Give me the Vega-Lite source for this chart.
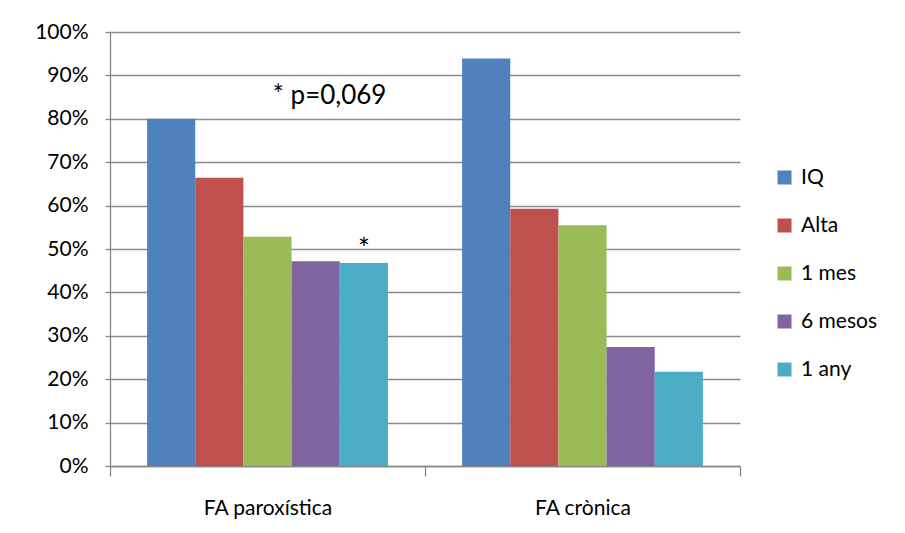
{
  "$schema": "https://vega.github.io/schema/vega-lite/v6.json",
  "autosize": "none",
  "width": 630,
  "height": 434,
  "padding": {"left": 110, "top": 32, "right": 165, "bottom": 67},
  "background": "white",
  "config": {
    "font": "Lato",
    "view": {"stroke": null},
    "axis": {"labelFont": "Lato", "labelColor": "#000000", "labelFontSize": 21, "domainColor": "#868686", "tickColor": "#868686", "gridColor": "#8c8c8c", "gridWidth": 1.3, "domainWidth": 1.3, "tickWidth": 1.3}
  },
  "datasets": {
    "bars": [
      {"group": "FA paroxística", "period": "IQ", "value": 0.80},
      {"group": "FA paroxística", "period": "Alta", "value": 0.664},
      {"group": "FA paroxística", "period": "1 mes", "value": 0.528},
      {"group": "FA paroxística", "period": "6 mesos", "value": 0.472},
      {"group": "FA paroxística", "period": "1 any", "value": 0.468},
      {"group": "FA crònica", "period": "IQ", "value": 0.939},
      {"group": "FA crònica", "period": "Alta", "value": 0.593},
      {"group": "FA crònica", "period": "1 mes", "value": 0.555},
      {"group": "FA crònica", "period": "6 mesos", "value": 0.274},
      {"group": "FA crònica", "period": "1 any", "value": 0.217}
    ],
    "notes": [
      {"group": "FA paroxística", "period": "6 mesos", "value": 0.852, "label": "* p=0,069"}
    ],
    "stars": [
      {"group": "FA paroxística", "period": "1 any", "value": 0.468, "label": "*"}
    ]
  },
  "layer": [
    {
      "data": {"name": "bars"},
      "mark": {"type": "bar"},
      "encoding": {
        "x": {"field": "group", "type": "nominal", "sort": ["FA paroxística", "FA crònica"], "scale": {"paddingInner": 0, "paddingOuter": 0},
              "axis": {"title": null, "labelAngle": 0, "tickBand": "extent", "tickSize": 10, "labelPadding": 21, "grid": false}},
        "xOffset": {"field": "period", "type": "nominal", "sort": ["IQ", "Alta", "1 mes", "6 mesos", "1 any"], "scale": {"paddingInner": 0, "paddingOuter": 0.77}},
        "y": {"field": "value", "type": "quantitative", "scale": {"domain": [0, 1]},
              "axis": {"title": null, "values": [0, 0.1, 0.2, 0.3, 0.4, 0.5, 0.6, 0.7, 0.8, 0.9, 1], "format": ".0%", "tickSize": 5, "labelPadding": 17, "grid": true}},
        "color": {"field": "period", "type": "nominal", "sort": ["IQ", "Alta", "1 mes", "6 mesos", "1 any"],
                  "scale": {"domain": ["IQ", "Alta", "1 mes", "6 mesos", "1 any"], "range": ["#4F81BD", "#C0504D", "#9BBB59", "#8064A2", "#4BACC6"]},
                  "legend": {"title": null, "orient": "none", "legendX": 664, "legendY": 135, "symbolType": "square", "symbolSize": 196, "symbolStrokeWidth": 0, "labelFontSize": 21, "labelFont": "Lato", "labelColor": "#000000", "rowPadding": 26, "labelOffset": 6}}
      }
    },
    {
      "data": {"name": "notes"},
      "mark": {"type": "text", "fontSize": 26, "font": "Lato", "color": "#000000", "dx": 14},
      "encoding": {
        "x": {"field": "group", "type": "nominal", "sort": ["FA paroxística", "FA crònica"]},
        "xOffset": {"field": "period", "type": "nominal", "sort": ["IQ", "Alta", "1 mes", "6 mesos", "1 any"]},
        "y": {"field": "value", "type": "quantitative"},
        "text": {"field": "label"}
      }
    },
    {
      "data": {"name": "stars"},
      "mark": {"type": "text", "fontSize": 28, "font": "Lato", "color": "#000000", "dy": -12},
      "encoding": {
        "x": {"field": "group", "type": "nominal", "sort": ["FA paroxística", "FA crònica"]},
        "xOffset": {"field": "period", "type": "nominal", "sort": ["IQ", "Alta", "1 mes", "6 mesos", "1 any"]},
        "y": {"field": "value", "type": "quantitative"},
        "text": {"field": "label"}
      }
    }
  ]
}
